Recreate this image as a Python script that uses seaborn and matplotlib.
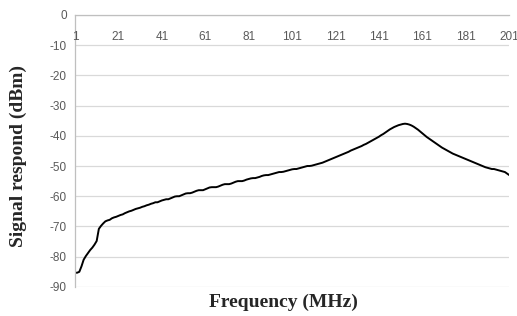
import numpy as np
import pandas as pd
import matplotlib
matplotlib.use("Agg")
import matplotlib.pyplot as plt
import seaborn as sns

# =========================
# DATA
# =========================
freq = list(range(1, 202))
signal = [
    -85.3, -85.3, -85.0, -83.2, -81.0, -79.8, -78.8, -77.8, -77.0, -76.0, -74.8,
    -70.8, -69.8, -69.0, -68.3, -68.0, -67.8, -67.3, -67.0, -66.8,
    -66.5, -66.2, -66.0, -65.6, -65.3, -65.0, -64.8, -64.5, -64.2, -64.0,
    -63.8, -63.5, -63.3, -63.0, -62.8, -62.5, -62.3, -62.0, -62.0, -61.7,
    -61.4, -61.2, -61.0, -61.0, -60.7, -60.4, -60.1, -60.0, -60.0, -59.7,
    -59.4, -59.1, -59.0, -59.0, -58.8, -58.5, -58.2, -58.0, -58.0, -58.0,
    -57.7, -57.4, -57.1, -57.0, -57.0, -57.0, -56.8, -56.5, -56.2, -56.0,
    -56.0, -56.0, -55.8, -55.5, -55.2, -55.0, -55.0, -55.0, -54.8, -54.5,
    -54.3, -54.1, -54.0, -54.0, -53.8, -53.6, -53.3, -53.1, -53.0, -53.0,
    -52.8, -52.6, -52.4, -52.2, -52.0, -52.0, -51.9, -51.7, -51.5, -51.3,
    -51.1, -51.0, -51.0, -50.8, -50.6, -50.4, -50.2, -50.0, -50.0, -49.9,
    -49.7, -49.5, -49.3, -49.1, -48.9, -48.6, -48.3, -48.0, -47.7, -47.4,
    -47.1, -46.8, -46.5, -46.2, -45.9, -45.6, -45.3, -44.9, -44.6, -44.3,
    -44.0, -43.7, -43.4, -43.0, -42.7, -42.3, -41.9, -41.5, -41.1, -40.7,
    -40.3, -39.8, -39.4, -38.9, -38.4, -37.9, -37.5, -37.1, -36.8, -36.5,
    -36.3, -36.1, -36.0, -36.1, -36.3, -36.6, -37.0, -37.5, -38.0, -38.6,
    -39.2, -39.8, -40.4, -40.9, -41.4, -41.9, -42.4, -42.9, -43.4, -43.9,
    -44.3, -44.7, -45.1, -45.5, -45.9, -46.2, -46.5, -46.8, -47.1, -47.4,
    -47.7, -48.0, -48.3, -48.6, -48.9, -49.2, -49.5, -49.8, -50.1, -50.4,
    -50.6, -50.8, -51.0, -51.0, -51.2, -51.4, -51.6, -51.8, -52.0, -52.5, -53.0,
]
x_ticks = list(range(1, 202, 20))
y_ticks = list(range(0, -100, -10))

df = pd.DataFrame({"freq": freq, "signal": signal})

# =========================
# PLOT
# =========================
sns.set_style("white")
plt.rcParams["font.family"] = ["Liberation Sans", "DejaVu Sans"]

fig = plt.figure(figsize=(5.17, 3.16), dpi=100)
ax = fig.add_axes([0.145, 0.092, 0.84, 0.861])

sns.lineplot(data=df, x="freq", y="signal", color="black", linewidth=1.4, ax=ax)

ax.set_xlim(1, 201)
ax.set_ylim(-90, 0)
ax.set_yticks(y_ticks)
ax.set_yticklabels([str(v) for v in y_ticks], color="#595959", fontsize=8.5)
ax.tick_params(axis="y", length=0, pad=6)
ax.set_xticks([])
ax.set_xlabel("")
ax.set_ylabel("")

# gridlines
for v in y_ticks:
    ax.axhline(v, color="#d9d9d9", linewidth=0.9, zorder=0)

# category labels sit just under the zero line (Excel style)
for t in x_ticks:
    ax.text(t, -7.3, str(t), ha="center", va="center", fontsize=8.5, color="#595959")

for s in ["right", "bottom"]:
    ax.spines[s].set_visible(False)
ax.spines["left"].set_color("#bfbfbf")
ax.spines["top"].set_color("#bfbfbf")
ax.spines["left"].set_linewidth(0.9)
ax.spines["top"].set_linewidth(0.9)

fig.text(283 / 517, 1 - 302 / 316, "Frequency (MHz)", family="Liberation Serif",
         fontweight="bold", fontsize=14, ha="center", va="center")
fig.text(18 / 517, 1 - 156 / 316, "Signal respond (dBm)", family="Liberation Serif",
         fontweight="bold", fontsize=14, ha="center", va="center", rotation=90)

plt.savefig("out.png", dpi=100)
plt.close()
